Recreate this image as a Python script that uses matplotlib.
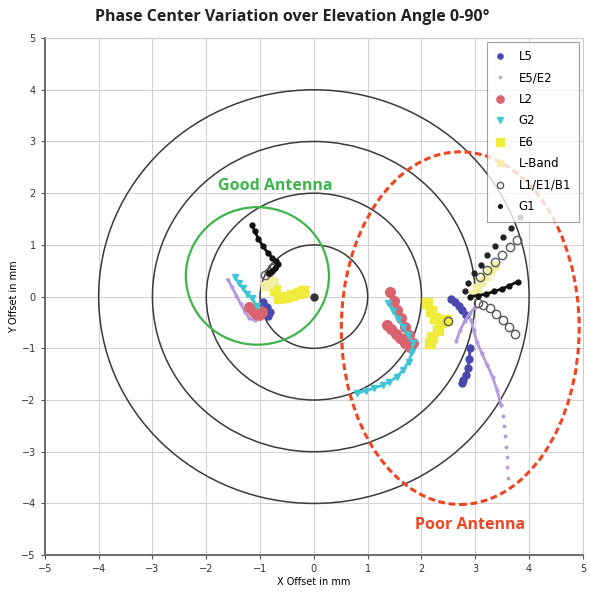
import matplotlib
matplotlib.use("Agg")
import matplotlib.pyplot as plt
from matplotlib.patches import Circle, Ellipse

# reference rings and highlight shapes (data units, mm)
ring_radii = [1, 2, 3, 4]
good_center = (-1.05, 0.4)
good_radius = 1.33
poor_center = (2.72, -0.61)
poor_width = 4.42
poor_height = 6.82
origin_x = [0.0]
origin_y = [0.0]

ticks = [-5, -4, -3, -2, -1, 0, 1, 2, 3, 4, 5]

# each series: list of (x list, y list) segments
l5_segments = [
    ([-0.95, -0.88, -0.82, -0.85], [-0.1, -0.2, -0.3, -0.38]),
    ([2.55, 2.62, 2.7, 2.76, 2.82], [-0.05, -0.1, -0.18, -0.26, -0.36]),
    ([2.9, 2.89, 2.86, 2.82, 2.78, 2.76], [-1.0, -1.2, -1.38, -1.52, -1.62, -1.68]),
]
e5e2_segments = [
    ([-1.6, -1.52, -1.44, -1.36, -1.28, -1.2, -1.1], [0.33, 0.18, 0.02, -0.14, -0.3, -0.42, -0.46]),
    ([2.65, 2.72, 2.8, 2.9, 3.0], [-0.85, -0.65, -0.48, -0.32, -0.2]),
    ([2.92, 2.97, 3.03, 3.12, 3.22, 3.32, 3.4, 3.48], [-0.45, -0.65, -0.88, -1.1, -1.32, -1.55, -1.8, -2.1]),
]
e5e2_tail_x = [3.51, 3.53, 3.55, 3.57, 3.58, 3.59, 3.6]
e5e2_tail_y = [-2.3, -2.5, -2.7, -2.9, -3.1, -3.3, -3.5]
l2_segments = [
    ([-1.2, -1.14, -1.08, -1.02, -0.97], [-0.2, -0.27, -0.33, -0.35, -0.3]),
    ([1.41, 1.48, 1.55, 1.62, 1.69, 1.76, 1.84], [0.08, -0.08, -0.25, -0.42, -0.58, -0.74, -0.89]),
    ([1.36, 1.44, 1.52, 1.6, 1.69, 1.78], [-0.54, -0.63, -0.72, -0.81, -0.9, -0.97]),
]
g2_segments = [
    ([-1.47, -1.4, -1.32, -1.24, -1.15, -1.06], [0.37, 0.27, 0.16, 0.06, -0.03, -0.19]),
    ([1.38, 1.47, 1.56, 1.65, 1.74, 1.84, 1.82, 1.76, 1.66, 1.54, 1.4, 1.28, 1.12, 0.96, 0.8],
     [-0.12, -0.27, -0.43, -0.58, -0.74, -0.89, -1.08, -1.26, -1.42, -1.55, -1.65, -1.71, -1.77, -1.82, -1.87]),
]
e6_segments = [
    ([-0.78, -0.72, -0.64, -0.52, -0.4, -0.28, -0.2], [0.27, 0.12, -0.03, 0.0, 0.04, 0.07, 0.1]),
    ([2.1, 2.18, 2.26, 2.36, 2.46, 2.3, 2.2, 2.16], [-0.12, -0.28, -0.42, -0.5, -0.45, -0.65, -0.78, -0.89]),
]
lband_segments = [
    ([-0.9, -0.84, -0.78], [0.2, 0.25, 0.3]),
    ([2.95, 3.03, 3.11, 3.19, 3.27, 3.35], [0.05, 0.17, 0.29, 0.4, 0.5, 0.6]),
]
l1_segments = [
    ([-0.9, -0.84, -0.78, -0.74], [0.42, 0.48, 0.55, 0.6]),
    ([3.08, 3.22, 3.36, 3.5, 3.64, 3.78], [0.38, 0.52, 0.66, 0.8, 0.95, 1.1]),
    ([2.49], [-0.48]),
    ([3.05, 3.15, 3.27, 3.39, 3.51, 3.63, 3.74], [-0.12, -0.16, -0.22, -0.33, -0.46, -0.59, -0.72]),
]
g1_segments = [
    ([-1.15, -1.1, -1.03, -0.95, -0.86, -0.77, -0.7, -0.67, -0.72, -0.78, -0.84],
     [1.39, 1.26, 1.12, 0.98, 0.85, 0.75, 0.68, 0.64, 0.56, 0.5, 0.46]),
    ([2.9, 3.05, 3.2, 3.35, 3.5, 3.63, 3.79], [0.0, 0.02, 0.05, 0.1, 0.15, 0.21, 0.29]),
]
g1_dots_x = [2.81, 2.86, 2.98, 3.1, 3.22, 3.36, 3.52, 3.67, 3.83]
g1_dots_y = [0.1, 0.27, 0.45, 0.62, 0.8, 0.98, 1.16, 1.33, 1.53]

series = [
    ("L5", l5_segments, "#4a4aae", "o", 5, "full"),
    ("E5/E2", e5e2_segments, "#b39be2", ".", 4, "full"),
    ("L2", l2_segments, "#d9646f", "o", 7, "full"),
    ("G2", g2_segments, "#3ec6d6", "v", 5, "full"),
    ("E6", e6_segments, "#f0ec3c", "s", 7, "full"),
    ("L-Band", lband_segments, "#f3f0a4", "s", 6, "full"),
    ("L1/E1/B1", l1_segments, "#5a5a5a", "o", 6, "none"),
    ("G1", g1_segments, "#111111", ".", 7, "full"),
]

fig = plt.figure(figsize=(5.90, 5.95), dpi=100)
ax = fig.add_axes([0.076, 0.067, 0.912, 0.869])

for r in ring_radii:
    ax.add_patch(Circle((0, 0), r, fill=False, ec="#3a3a3a", lw=1.1, zorder=2))
ax.add_patch(Circle(good_center, good_radius, fill=False, ec="#3db54a", lw=1.6, zorder=2))
ax.add_patch(Ellipse(poor_center, poor_width, poor_height, fill=False, ec="#ee4422",
                     lw=2.2, ls=(0, (2.2, 1.2)), zorder=2))

for name, segs, color, marker, ms, fill in series:
    for i, (xs, ys) in enumerate(segs):
        if fill == "none":
            ax.plot(xs, ys, color=color, marker=marker, ms=ms, mfc="none", mec=color,
                    mew=1.0, lw=0, zorder=3, label=name if i == 0 else None)
        else:
            ax.plot(xs, ys, color=color, marker=marker, ms=ms, lw=2.0, zorder=3,
                    label=name if i == 0 else None)
ax.plot(e5e2_tail_x, e5e2_tail_y, ls="none", marker=".", ms=3.5, color="#b39be2", zorder=3)
ax.plot(g1_dots_x, g1_dots_y, ls="none", marker=".", ms=7, color="#222222", zorder=3)
ax.plot(origin_x, origin_y, ls="none", marker="o", ms=5, color="#333333", zorder=3)

ax.text(-0.72, 2.13, "Good Antenna", color="#3db54a", fontsize=11.5, fontweight="bold",
        ha="center", va="center", family="Open Sans")
ax.text(2.9, -4.41, "Poor Antenna", color="#ee4422", fontsize=11.5, fontweight="bold",
        ha="center", va="center", family="Open Sans")

ax.set_xlim(-5, 5)
ax.set_ylim(-5, 5)
ax.set_xticks(ticks)
ax.set_yticks(ticks)
ax.tick_params(labelsize=7, length=3, color="#555555", labelcolor="#333333")
ax.grid(True, color="#d4d4d4", lw=0.8)
ax.set_axisbelow(True)
for s in ["top", "right"]:
    ax.spines[s].set_color("#cccccc")
for s in ["left", "bottom"]:
    ax.spines[s].set_color("#555555")
    ax.spines[s].set_linewidth(1.2)

ax.set_xlabel("X Offset in mm", fontsize=7, labelpad=2)
ax.set_ylabel("Y Offset in mm", fontsize=7, labelpad=2)
fig.text(0.495, 0.971, "Phase Center Variation over Elevation Angle 0-90°", fontsize=11.5,
         fontweight="bold", family="Open Sans", color="#222222", ha="center", va="center")

leg = ax.legend(loc="upper right", fontsize=8.5, frameon=True, fancybox=False,
                edgecolor="#888888", labelspacing=0.72, handlelength=0.8, markerscale=0.75,
                handletextpad=1.2, borderaxespad=0.3, borderpad=0.7)
leg.get_frame().set_linewidth(0.8)
for h in leg.get_lines():
    h.set_linestyle("none")

fig.savefig("out.png", dpi=100)
